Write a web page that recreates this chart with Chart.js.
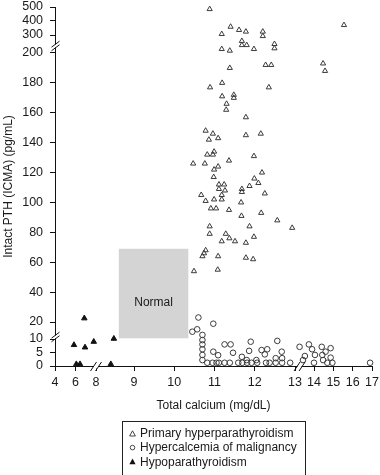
<!DOCTYPE html>
<html>
<head>
<meta charset="utf-8">
<title>PTH vs calcium</title>
<script src="https://cdn.jsdelivr.net/npm/chart.js@4.4.1/dist/chart.umd.min.js"></script>
<style>
	html, body { margin: 0; padding: 0; background: #fff; }
	#wrap { position: relative; width: 380px; height: 475px; }
	#legend {
		position: absolute; left: 122px; top: 421px; width: 182px; height: 49px;
		border: 1.5px solid #222; padding-top: 4px;
		font: 12px "Liberation Sans", Arial, sans-serif; color: #1a1a1a;
	}
	#legend .item { position: relative; height: 14.3px; line-height: 14.3px; padding-left: 17px; white-space: nowrap; }
	#legend svg { position: absolute; left: 6px; top: 3.6px; }
</style>
</head>
<body>
<div id="wrap">
	<canvas id="chart" width="380" height="475"></canvas>
	<div id="legend">
		<div class="item"><svg width="7" height="7"><polygon points="3.5,0.8 6.4,6 0.6,6" fill="none" stroke="#333" stroke-width="0.9"/></svg>Primary hyperparathyroidism</div>
		<div class="item"><svg width="7" height="7"><circle cx="3.5" cy="3.6" r="2.3" fill="none" stroke="#333" stroke-width="0.9"/></svg>Hypercalcemia of malignancy</div>
		<div class="item"><svg width="7" height="7"><polygon points="3.5,0.6 6.6,6.2 0.4,6.2" fill="#111"/></svg>Hypoparathyroidism</div>
	</div>
</div>
<script>
// Data: total calcium (mg/dL) and intact PTH (pg/mL)
const primaryCa = [
	10.88, 11.40, 11.18, 11.61, 11.78, 12.20, 12.20, 15.55, 11.68, 11.68,
	11.80, 12.49, 12.49, 11.18, 11.38, 11.98, 11.38, 12.27, 12.41, 14.47,
	14.57, 10.89, 11.19, 12.35, 11.19, 11.48, 11.48, 11.30, 11.29, 11.78,
	10.78, 10.96, 11.09, 10.86, 11.78, 12.15, 10.99, 10.82, 10.96, 11.98,
	10.47, 10.76, 11.36, 11.09, 10.99, 10.98, 12.18, 11.99, 12.09, 11.87,
	11.11, 11.24, 11.11, 11.26, 11.68, 11.68, 10.67, 11.18, 11.18, 10.78,
	10.99, 12.25, 10.91, 11.04, 11.66, 11.36, 11.67, 12.16, 12.56, 12.93,
	10.88, 11.87, 10.88, 11.28, 11.37, 11.51, 11.18, 11.98, 11.78, 10.78,
	10.74, 10.70, 11.09, 11.78, 11.96, 10.49, 11.08,
];
const primaryPth = [
	485, 359, 307, 336, 324, 324, 294, 371, 267, 244,
	244, 250, 226, 222, 213, 222, 190, 192, 192, 193,
	188, 177, 180, 177, 171, 172, 170, 166, 162, 157,
	148, 146, 143, 142, 145, 146, 134, 132, 132, 131,
	126, 126, 128, 124, 122, 117, 120, 116, 113, 111,
	112, 112, 109, 108, 109, 107, 105, 105, 102, 101,
	102, 106, 96, 96, 100, 95, 91, 93, 88, 83,
	84, 84, 79, 79, 76, 74, 74, 77, 73, 68,
	66, 64, 64, 63, 62, 54, 55,
];
const malignancyCa = [
	10.60, 10.45, 10.57, 10.70, 10.70, 10.70, 10.70, 10.70, 10.70, 10.82,
	10.97, 10.97, 10.95, 11.05, 11.09, 11.11, 11.25, 11.25, 11.40, 11.38,
	11.46, 11.59, 11.68, 11.69, 11.80, 11.81, 11.86, 11.90, 11.92, 12.04,
	12.06, 12.17, 12.25, 12.31, 12.28, 12.37, 12.52, 12.56, 12.52, 12.67,
	12.68, 12.68, 12.88, 13.24, 13.42, 13.52, 13.73, 13.90, 14.05, 14.00,
	14.40, 14.43, 14.47, 14.60, 14.69, 14.86, 14.86, 14.95, 16.90,
];
const malignancyPth = [
	23, 14.3, 15.7, 12.4, 9.6, 8.0, 6.2, 4.1, 2.2, 1.2,
	19, 5.3, 1.2, 1.2, 4.0, 1.2, 8.0, 1.2, 8.0, 1.2,
	4.9, 1.2, 3.4, 1.2, 2.2, 1.2, 5.6, 9.0, 1.2, 2.2,
	1.2, 5.9, 4.3, 6.2, 1.2, 1.2, 2.9, 9.3, 1.2, 5.3,
	2.9, 1.2, 1.2, 7.1, 2.2, 3.7, 8.0, 6.2, 4.1, 1.2,
	7.1, 4.1, 2.2, 5.3, 1.2, 6.6, 3.1, 1.2, 1.2,
];
const hypoCa = [5.85, 6.08, 6.44, 6.86, 6.93, 7.78, 8.39, 8.47];
const hypoPth = [7.8, 0.7, 0.7, 22.5, 6.9, 9.0, 0.7, 10.2];

const normalCa = [8.6, 10.35];
const normalPth = [10.4, 69];

const xTicks = [4, 6, 8, 9, 10, 11, 12, 13, 14, 15, 16, 17];
const yTicks = [0, 5, 10, 20, 40, 60, 80, 100, 120, 140, 160, 180, 200, 300, 400, 500];

// broken axes: value knots and their distance (px) from the axis origin
const xKnots = [4, 8, 9, 13, 14, 17];
const xKnotPos = [0, 41, 79, 240, 259, 317];
const yKnots = [0, 10, 20, 200, 300, 500];
const yKnotPos = [0, 27, 44, 313, 331, 359];
// where the "//" marks sit
const xCuts = [8, 13.24];
const yCuts = [11.2, 239];

const FONT = "'Liberation Sans', Arial, sans-serif";
const INK = "#1a1a1a";

// piecewise linear map for a broken axis
const warp = (knots, pos) => (v) => {
	for (let i = 1; i < knots.length; i++) {
		if (v <= knots[i] || i === knots.length - 1) {
			const t = (v - knots[i - 1]) / (knots[i] - knots[i - 1]);
			return pos[i - 1] + t * (pos[i] - pos[i - 1]);
		}
	}
};
const warpX = warp(xKnots, xKnotPos);
const warpY = warp(yKnots, yKnotPos);

const toPoints = (xs, ys) => xs.map((x, i) => ({ x: warpX(x), y: warpY(ys[i]) }));

// grey "Normal" box behind the points
const normalBoxPlugin = {
	id: "normalBox",
	beforeDatasetsDraw(chart) {
		const { ctx, scales: { x, y } } = chart;
		const x0 = x.getPixelForValue(warpX(normalCa[0]));
		const x1 = x.getPixelForValue(warpX(normalCa[1]));
		const y0 = y.getPixelForValue(warpY(normalPth[1]));
		const y1 = y.getPixelForValue(warpY(normalPth[0]));
		ctx.save();
		ctx.fillStyle = "#d4d4d4";
		ctx.fillRect(x0, y0, x1 - x0, y1 - y0);
		ctx.fillStyle = INK;
		ctx.font = `12px ${FONT}`;
		ctx.textAlign = "center";
		ctx.textBaseline = "middle";
		ctx.fillText("Normal", (x0 + x1) / 2, y0 + (y1 - y0) * 0.6);
		ctx.restore();
	},
};

// "//" break marks across both axes
const axisBreakPlugin = {
	id: "axisBreaks",
	afterDraw(chart) {
		const { ctx, scales: { x, y } } = chart;
		const ax = x.left + 0.5;
		const ay = y.bottom + 0.5;
		ctx.save();
		ctx.strokeStyle = "#111";
		ctx.lineWidth = 1;
		yCuts.forEach((v) => {
			const py = y.getPixelForValue(warpY(v));
			ctx.fillStyle = "#fff";
			ctx.fillRect(ax - 2, py - 1.5, 4, 3);
			[-1.8, 1.8].forEach((d) => {
				ctx.beginPath();
				ctx.moveTo(ax - 4, py + d + 3);
				ctx.lineTo(ax + 4, py + d - 3);
				ctx.stroke();
			});
		});
		xCuts.forEach((v) => {
			const px = x.getPixelForValue(warpX(v));
			ctx.fillStyle = "#fff";
			ctx.fillRect(px - 2, ay - 2, 4, 4);
			[-2.5, 2.5].forEach((d) => {
				ctx.beginPath();
				ctx.moveTo(px + d - 3, ay + 4.5);
				ctx.lineTo(px + d + 3, ay - 4.5);
				ctx.stroke();
			});
		});
		ctx.restore();
	},
};

const markerSet = (label, xs, ys, style, radius, fill, stroke) => ({
	label,
	data: toPoints(xs, ys),
	pointStyle: style,
	pointRadius: radius,
	pointBackgroundColor: fill,
	pointBorderColor: stroke,
	pointBorderWidth: 1,
	clip: false,
});

const titleFont = { family: FONT, size: 12 };

Chart.defaults.font.family = FONT;

new Chart(document.getElementById("chart"), {
	type: "scatter",
	data: {
		datasets: [
			markerSet("Primary hyperparathyroidism", primaryCa, primaryPth, "triangle", 3, "rgba(0,0,0,0)", "#3a3a3a"),
			markerSet("Hypercalcemia of malignancy", malignancyCa, malignancyPth, "circle", 2.8, "rgba(0,0,0,0)", "#3a3a3a"),
			markerSet("Hypoparathyroidism", hypoCa, hypoPth, "triangle", 3.2, "#111", "#111"),
		],
	},
	options: {
		responsive: false,
		animation: false,
		events: [],
		layout: { padding: { top: 7, right: 8, bottom: 59, left: 0 } },
		plugins: {
			legend: { display: false },
			tooltip: { enabled: false },
		},
		scales: {
			x: {
				type: "linear",
				min: 0,
				max: xKnotPos[xKnotPos.length - 1],
				afterFit: (s) => { s.height = 50; },
				afterBuildTicks: (s) => { s.ticks = xTicks.map((v) => ({ value: warpX(v) })); },
				ticks: {
					autoSkip: false,
					maxRotation: 0,
					padding: 1,
					color: INK,
					// tall line box pushes the labels down without widening the side padding
					font: { family: FONT, size: 12.5, lineHeight: 1.76 },
					callback: (value, i) => xTicks[i],
				},
				grid: { drawOnChartArea: false, drawTicks: true, tickLength: 5, color: "#111" },
				border: { display: true, color: "#111", width: 1 },
				title: { display: true, text: "Total calcium (mg/dL)", color: INK, font: titleFont, padding: { top: 0, bottom: 3 } },
			},
			y: {
				type: "linear",
				min: 0,
				max: yKnotPos[yKnotPos.length - 1],
				afterFit: (s) => { s.width = 55; },
				afterBuildTicks: (s) => { s.ticks = yTicks.map((v) => ({ value: warpY(v) })); },
				ticks: {
					autoSkip: false,
					padding: 0,
					color: INK,
					font: { family: FONT, size: 12.5, lineHeight: 1 },
					callback: (value, i) => `${yTicks[i]}\u00A0\u00A0`,
				},
				grid: { drawOnChartArea: false, drawTicks: true, tickLength: 5, color: "#111" },
				border: { display: true, color: "#111", width: 1 },
				title: { display: true, text: "Intact PTH (ICMA) (pg/mL)", color: INK, font: titleFont, padding: { top: 1, bottom: 0 } },
			},
		},
	},
	plugins: [normalBoxPlugin, axisBreakPlugin],
});
</script>
</body>
</html>
